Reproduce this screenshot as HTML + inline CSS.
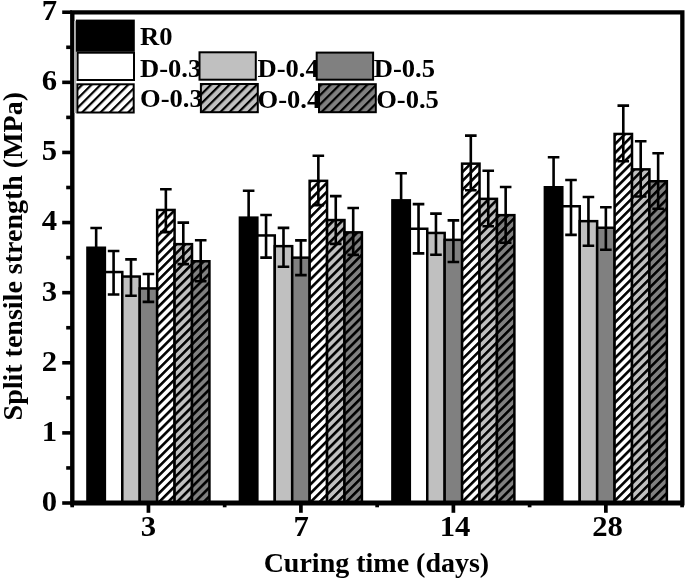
<!DOCTYPE html><html><head><meta charset="utf-8"><style>html,body{margin:0;padding:0;background:#fff;width:685px;height:579px;overflow:hidden}svg{display:block;will-change:transform}text{font-family:"Liberation Serif",serif;font-weight:bold;fill:#000}</style></head><body>
<svg width="685" height="579" viewBox="0 0 685 579">
<defs>
<pattern id="h0" patternUnits="userSpaceOnUse" width="6.3" height="20" patternTransform="rotate(45)"><rect width="6.3" height="20" fill="#fff"/><rect width="2.6" height="20" fill="#000"/></pattern>
<pattern id="l0" patternUnits="userSpaceOnUse" width="6.5" height="20" patternTransform="rotate(45)"><rect width="6.5" height="20" fill="#fff"/><rect width="2.2" height="20" fill="#000"/></pattern>
<pattern id="h1" patternUnits="userSpaceOnUse" width="6.3" height="20" patternTransform="rotate(45)"><rect width="6.3" height="20" fill="#c0c0c0"/><rect width="2.6" height="20" fill="#000"/></pattern>
<pattern id="l1" patternUnits="userSpaceOnUse" width="6.5" height="20" patternTransform="rotate(45)"><rect width="6.5" height="20" fill="#c0c0c0"/><rect width="2.2" height="20" fill="#000"/></pattern>
<pattern id="h2" patternUnits="userSpaceOnUse" width="6.3" height="20" patternTransform="rotate(45)"><rect width="6.3" height="20" fill="#808080"/><rect width="2.6" height="20" fill="#000"/></pattern>
<pattern id="l2" patternUnits="userSpaceOnUse" width="6.5" height="20" patternTransform="rotate(45)"><rect width="6.5" height="20" fill="#808080"/><rect width="2.2" height="20" fill="#000"/></pattern>
</defs>
<rect width="685" height="579" fill="#fff"/>
<rect x="87.45" y="247.75" width="17.43" height="255.25" fill="#000" stroke="#000" stroke-width="2.5"/>
<rect x="104.87" y="272.05" width="17.43" height="230.95" fill="#fff" stroke="#000" stroke-width="2.5"/>
<rect x="122.30" y="276.55" width="17.43" height="226.45" fill="#c0c0c0" stroke="#000" stroke-width="2.5"/>
<rect x="139.72" y="288.45" width="17.43" height="214.55" fill="#808080" stroke="#000" stroke-width="2.5"/>
<rect x="157.15" y="209.95" width="17.43" height="293.05" fill="url(#h0)" stroke="#000" stroke-width="2.5"/>
<rect x="174.58" y="244.15" width="17.43" height="258.85" fill="url(#h1)" stroke="#000" stroke-width="2.5"/>
<rect x="192.00" y="261.25" width="17.43" height="241.75" fill="url(#h2)" stroke="#000" stroke-width="2.5"/>
<rect x="239.92" y="217.65" width="17.43" height="285.35" fill="#000" stroke="#000" stroke-width="2.5"/>
<rect x="257.35" y="235.45" width="17.43" height="267.55" fill="#fff" stroke="#000" stroke-width="2.5"/>
<rect x="274.77" y="246.15" width="17.43" height="256.85" fill="#c0c0c0" stroke="#000" stroke-width="2.5"/>
<rect x="292.20" y="257.65" width="17.43" height="245.35" fill="#808080" stroke="#000" stroke-width="2.5"/>
<rect x="309.63" y="180.85" width="17.43" height="322.15" fill="url(#h0)" stroke="#000" stroke-width="2.5"/>
<rect x="327.05" y="220.05" width="17.43" height="282.95" fill="url(#h1)" stroke="#000" stroke-width="2.5"/>
<rect x="344.48" y="232.35" width="17.43" height="270.65" fill="url(#h2)" stroke="#000" stroke-width="2.5"/>
<rect x="392.40" y="200.35" width="17.43" height="302.65" fill="#000" stroke="#000" stroke-width="2.5"/>
<rect x="409.82" y="228.75" width="17.43" height="274.25" fill="#fff" stroke="#000" stroke-width="2.5"/>
<rect x="427.25" y="232.95" width="17.43" height="270.05" fill="#c0c0c0" stroke="#000" stroke-width="2.5"/>
<rect x="444.67" y="239.85" width="17.43" height="263.15" fill="#808080" stroke="#000" stroke-width="2.5"/>
<rect x="462.10" y="163.65" width="17.43" height="339.35" fill="url(#h0)" stroke="#000" stroke-width="2.5"/>
<rect x="479.53" y="198.85" width="17.43" height="304.15" fill="url(#h1)" stroke="#000" stroke-width="2.5"/>
<rect x="496.95" y="215.15" width="17.43" height="287.85" fill="url(#h2)" stroke="#000" stroke-width="2.5"/>
<rect x="544.87" y="187.25" width="17.43" height="315.75" fill="#000" stroke="#000" stroke-width="2.5"/>
<rect x="562.30" y="206.25" width="17.43" height="296.75" fill="#fff" stroke="#000" stroke-width="2.5"/>
<rect x="579.72" y="221.15" width="17.43" height="281.85" fill="#c0c0c0" stroke="#000" stroke-width="2.5"/>
<rect x="597.15" y="227.75" width="17.43" height="275.25" fill="#808080" stroke="#000" stroke-width="2.5"/>
<rect x="614.58" y="133.95" width="17.43" height="369.05" fill="url(#h0)" stroke="#000" stroke-width="2.5"/>
<rect x="632.00" y="169.35" width="17.43" height="333.65" fill="url(#h1)" stroke="#000" stroke-width="2.5"/>
<rect x="649.43" y="181.25" width="17.43" height="321.75" fill="url(#h2)" stroke="#000" stroke-width="2.5"/>
<path d="M96.16 228.00V267.20M90.36 228.00H101.96M90.36 267.20H101.96" stroke="#000" stroke-width="2.6" fill="none"/>
<path d="M113.59 251.00V294.50M107.79 251.00H119.39M107.79 294.50H119.39" stroke="#000" stroke-width="2.6" fill="none"/>
<path d="M131.01 259.40V295.80M125.21 259.40H136.81M125.21 295.80H136.81" stroke="#000" stroke-width="2.6" fill="none"/>
<path d="M148.44 274.00V301.90M142.64 274.00H154.24M142.64 301.90H154.24" stroke="#000" stroke-width="2.6" fill="none"/>
<path d="M165.86 189.30V232.10M160.06 189.30H171.66M160.06 232.10H171.66" stroke="#000" stroke-width="2.6" fill="none"/>
<path d="M183.29 222.60V264.10M177.49 222.60H189.09M177.49 264.10H189.09" stroke="#000" stroke-width="2.6" fill="none"/>
<path d="M200.71 240.30V281.20M194.91 240.30H206.51M194.91 281.20H206.51" stroke="#000" stroke-width="2.6" fill="none"/>
<path d="M248.64 190.80V244.20M242.84 190.80H254.44M242.84 244.20H254.44" stroke="#000" stroke-width="2.6" fill="none"/>
<path d="M266.06 215.00V257.60M260.26 215.00H271.86M260.26 257.60H271.86" stroke="#000" stroke-width="2.6" fill="none"/>
<path d="M283.49 227.90V266.80M277.69 227.90H289.29M277.69 266.80H289.29" stroke="#000" stroke-width="2.6" fill="none"/>
<path d="M300.91 240.40V275.10M295.11 240.40H306.71M295.11 275.10H306.71" stroke="#000" stroke-width="2.6" fill="none"/>
<path d="M318.34 155.70V205.10M312.54 155.70H324.14M312.54 205.10H324.14" stroke="#000" stroke-width="2.6" fill="none"/>
<path d="M335.76 196.10V243.90M329.96 196.10H341.56M329.96 243.90H341.56" stroke="#000" stroke-width="2.6" fill="none"/>
<path d="M353.19 208.00V254.90M347.39 208.00H358.99M347.39 254.90H358.99" stroke="#000" stroke-width="2.6" fill="none"/>
<path d="M401.11 173.30V227.10M395.31 173.30H406.91M395.31 227.10H406.91" stroke="#000" stroke-width="2.6" fill="none"/>
<path d="M418.54 204.10V253.40M412.74 204.10H424.34M412.74 253.40H424.34" stroke="#000" stroke-width="2.6" fill="none"/>
<path d="M435.96 213.60V254.80M430.16 213.60H441.76M430.16 254.80H441.76" stroke="#000" stroke-width="2.6" fill="none"/>
<path d="M453.39 220.40V262.00M447.59 220.40H459.19M447.59 262.00H459.19" stroke="#000" stroke-width="2.6" fill="none"/>
<path d="M470.81 135.60V190.20M465.01 135.60H476.61M465.01 190.20H476.61" stroke="#000" stroke-width="2.6" fill="none"/>
<path d="M488.24 170.80V226.30M482.44 170.80H494.04M482.44 226.30H494.04" stroke="#000" stroke-width="2.6" fill="none"/>
<path d="M505.66 187.00V242.70M499.86 187.00H511.46M499.86 242.70H511.46" stroke="#000" stroke-width="2.6" fill="none"/>
<path d="M553.59 157.20V217.00M547.79 157.20H559.39M547.79 217.00H559.39" stroke="#000" stroke-width="2.6" fill="none"/>
<path d="M571.01 180.00V234.90M565.21 180.00H576.81M565.21 234.90H576.81" stroke="#000" stroke-width="2.6" fill="none"/>
<path d="M588.44 197.00V245.70M582.64 197.00H594.24M582.64 245.70H594.24" stroke="#000" stroke-width="2.6" fill="none"/>
<path d="M605.86 207.30V249.80M600.06 207.30H611.66M600.06 249.80H611.66" stroke="#000" stroke-width="2.6" fill="none"/>
<path d="M623.29 105.60V161.30M617.49 105.60H629.09M617.49 161.30H629.09" stroke="#000" stroke-width="2.6" fill="none"/>
<path d="M640.71 141.20V196.50M634.91 141.20H646.51M634.91 196.50H646.51" stroke="#000" stroke-width="2.6" fill="none"/>
<path d="M658.14 153.30V208.80M652.34 153.30H663.94M652.34 208.80H663.94" stroke="#000" stroke-width="2.6" fill="none"/>
<path d="M70.1 10.15H684.5V14.5H70.1Z M70.1 10.15H74.5V505.6H70.1Z M680.2 10.15H684.5V505.6H680.2Z M70.1 500.6H684.5V505.6H70.1Z" fill="#000"/>
<path d="M62.2 503.00H72" stroke="#000" stroke-width="3.6"/>
<text transform="translate(57.1 510.90) scale(1.04 1)" font-size="29.5" text-anchor="end">0</text>
<path d="M62.2 432.89H72" stroke="#000" stroke-width="3.6"/>
<text transform="translate(57.1 440.79) scale(1.04 1)" font-size="29.5" text-anchor="end">1</text>
<path d="M62.2 362.78H72" stroke="#000" stroke-width="3.6"/>
<text transform="translate(57.1 370.68) scale(1.04 1)" font-size="29.5" text-anchor="end">2</text>
<path d="M62.2 292.67H72" stroke="#000" stroke-width="3.6"/>
<text transform="translate(57.1 300.57) scale(1.04 1)" font-size="29.5" text-anchor="end">3</text>
<path d="M62.2 222.56H72" stroke="#000" stroke-width="3.6"/>
<text transform="translate(57.1 230.46) scale(1.04 1)" font-size="29.5" text-anchor="end">4</text>
<path d="M62.2 152.45H72" stroke="#000" stroke-width="3.6"/>
<text transform="translate(57.1 160.35) scale(1.04 1)" font-size="29.5" text-anchor="end">5</text>
<path d="M62.2 82.34H72" stroke="#000" stroke-width="3.6"/>
<text transform="translate(57.1 90.24) scale(1.04 1)" font-size="29.5" text-anchor="end">6</text>
<path d="M62.2 12.23H72" stroke="#000" stroke-width="3.6"/>
<text transform="translate(57.1 20.13) scale(1.04 1)" font-size="29.5" text-anchor="end">7</text>
<path d="M66.2 467.94H72" stroke="#000" stroke-width="3.6"/>
<path d="M66.2 397.84H72" stroke="#000" stroke-width="3.6"/>
<path d="M66.2 327.73H72" stroke="#000" stroke-width="3.6"/>
<path d="M66.2 257.62H72" stroke="#000" stroke-width="3.6"/>
<path d="M66.2 187.50H72" stroke="#000" stroke-width="3.6"/>
<path d="M66.2 117.39H72" stroke="#000" stroke-width="3.6"/>
<path d="M66.2 47.29H72" stroke="#000" stroke-width="3.6"/>
<path d="M148.44 503V512.8" stroke="#000" stroke-width="3.7"/>
<text transform="translate(148.44 536.1) scale(1.04 1)" font-size="29.5" text-anchor="middle">3</text>
<path d="M300.91 503V512.8" stroke="#000" stroke-width="3.7"/>
<text transform="translate(301.21 536.1) scale(1.04 1)" font-size="29.5" text-anchor="middle">7</text>
<path d="M453.39 503V512.8" stroke="#000" stroke-width="3.7"/>
<text transform="translate(454.99 536.1) scale(1.04 1)" font-size="29.5" text-anchor="middle">14</text>
<path d="M605.86 503V512.8" stroke="#000" stroke-width="3.7"/>
<text transform="translate(607.46 536.1) scale(1.04 1)" font-size="29.5" text-anchor="middle">28</text>
<path d="M72.20 503V507.3" stroke="#000" stroke-width="3.7"/>
<path d="M224.68 503V507.3" stroke="#000" stroke-width="3.7"/>
<path d="M377.15 503V507.3" stroke="#000" stroke-width="3.7"/>
<path d="M529.62 503V507.3" stroke="#000" stroke-width="3.7"/>
<path d="M682.10 503V507.3" stroke="#000" stroke-width="3.7"/>
<text x="376.4" y="571.8" font-size="28" text-anchor="middle">Curing time (days)</text>
<text transform="translate(21.8 256.2) rotate(-90)" x="0" y="0" font-size="28" text-anchor="middle">Split tensile strength (MPa)</text>
<rect x="74" y="21" width="2.1" height="92" fill="#b0b0b0"/>
<rect x="76.90" y="20.60" width="56.90" height="30.20" fill="#000" stroke="#000" stroke-width="2"/>
<text transform="translate(140.00 44.80) scale(1.08 1)" font-size="24.6">R0</text>
<rect x="77.60" y="52.70" width="56.40" height="27.30" fill="#fff" stroke="#000" stroke-width="2"/>
<text transform="translate(140.00 76.50) scale(1.08 1)" font-size="24.6">D-0.3</text>
<rect x="199.50" y="52.30" width="56.30" height="27.40" fill="#c0c0c0" stroke="#000" stroke-width="2"/>
<text transform="translate(257.50 76.70) scale(1.08 1)" font-size="24.6">D-0.4</text>
<rect x="316.70" y="52.60" width="56.40" height="27.10" fill="#808080" stroke="#000" stroke-width="2"/>
<text transform="translate(373.70 76.70) scale(1.08 1)" font-size="24.6">D-0.5</text>
<rect x="77.40" y="84.30" width="56.30" height="28.20" fill="url(#l0)" stroke="#000" stroke-width="2"/>
<text transform="translate(140.00 106.80) scale(1.08 1)" font-size="24.6">O-0.3</text>
<rect x="200.90" y="84.00" width="56.90" height="28.20" fill="url(#l1)" stroke="#000" stroke-width="2"/>
<text transform="translate(257.50 107.70) scale(1.08 1)" font-size="24.6">O-0.4</text>
<rect x="319.00" y="84.20" width="56.80" height="28.00" fill="url(#l2)" stroke="#000" stroke-width="2"/>
<text transform="translate(376.20 107.70) scale(1.08 1)" font-size="24.6">O-0.5</text>
</svg></body></html>
